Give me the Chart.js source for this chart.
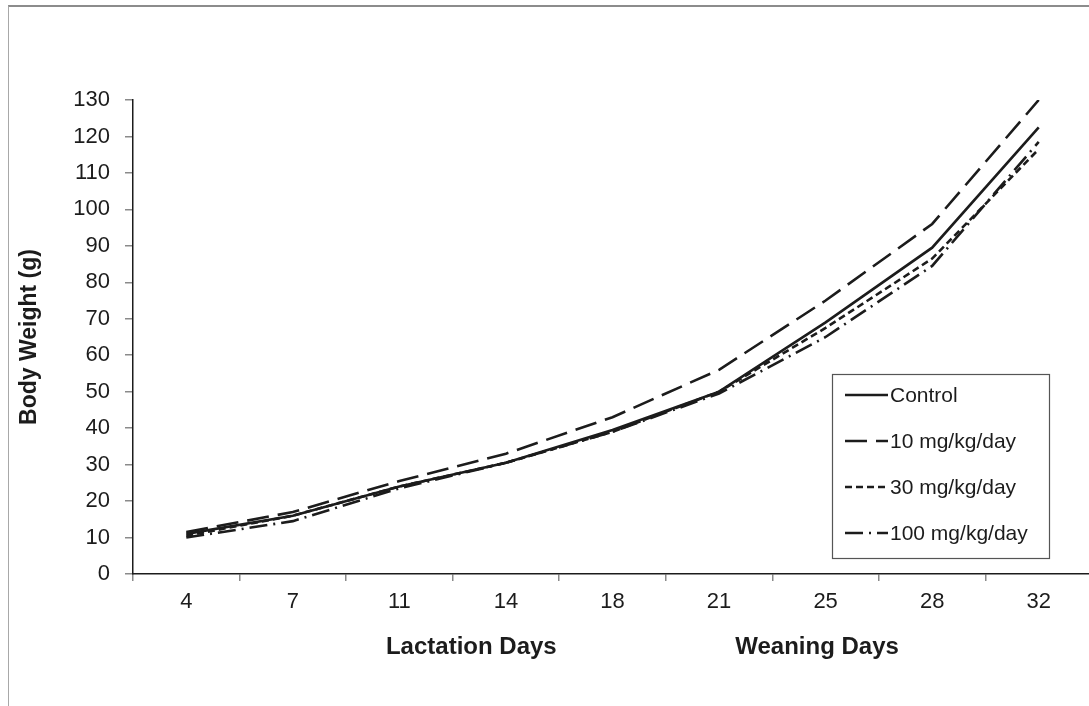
<!DOCTYPE html>
<html><head><meta charset="utf-8">
<script src="https://cdn.jsdelivr.net/npm/chart.js@4.4.1/dist/chart.umd.min.js"></script>
<style>
html,body{margin:0;padding:0;overflow:hidden;background:#fff;width:1089px;height:706px;}
#frame{position:absolute;left:8px;top:5px;width:1100px;height:720px;border-top:2px solid #8c8c8c;border-left:1px solid #a8a8a8;}
#wrap{position:absolute;left:0;top:0;width:1100px;height:706px;}
</style></head><body>
<div id="frame"></div>
<div id="wrap"><canvas id="c"></canvas></div>
<script>
const days = ['4', '7', '11', '14', '18', '21', '25', '28', '32'];
const controlValues = [11, 16, 24, 30.5, 39.5, 50, 69, 89.5, 122.5];
const mg10Values = [11.5, 17, 25.5, 33, 43, 56, 75, 96, 130];
const mg30Values = [10.5, 16, 24, 30.5, 39, 50, 67.5, 86.5, 116.5];
const mg100Values = [10, 14.5, 23.5, 30.5, 39, 49.5, 65, 84.5, 118.5];
const yTickValues = [0, 10, 20, 30, 40, 50, 60, 70, 80, 90, 100, 110, 120, 130];
const seriesNames = ['Control', '10 mg/kg/day', '30 mg/kg/day', '100 mg/kg/day'];
const yTitle = 'Body Weight (g)';
const xGroupTitles = ['Lactation Days', 'Weaning Days'];

const FONT = "'Liberation Sans', Arial, sans-serif";
const INK = '#1c1c1c';
const dashes = [[], [22, 9], [7, 4], [18, 6, 2, 6]];
const seriesData = [controlValues, mg10Values, mg30Values, mg100Values];

const datasets = seriesNames.map((name, i) => ({
  label: name,
  data: seriesData[i],
  borderColor: INK,
  backgroundColor: INK,
  borderWidth: 2.6,
  borderDash: dashes[i],
  pointRadius: 0,
  tension: 0,
  fill: false
}));

const overlay = {
  id: 'overlay',
  afterDraw(chart) {
    const ctx = chart.ctx;
    const xs = chart.scales.x;
    ctx.save();
    ctx.font = "bold 24px " + FONT;
    ctx.fillStyle = INK;
    ctx.textAlign = 'center';
    ctx.textBaseline = 'middle';
    const groupPos = [2.675, 5.92];
    xGroupTitles.forEach((t, i) => ctx.fillText(t, xs.getPixelForValue(groupPos[i]), 647));
    const bx = 832, by = 374, bw = 217, bh = 184;
    ctx.fillStyle = '#fff';
    ctx.fillRect(bx, by, bw, bh);
    ctx.strokeStyle = '#555';
    ctx.lineWidth = 1.2;
    ctx.strokeRect(bx + 0.5, by + 0.5, bw, bh);
    const rows = [395, 441, 487, 533];
    ctx.font = "21px " + FONT;
    ctx.textAlign = 'left';
    chart.data.datasets.forEach((ds, i) => {
      const y = rows[i];
      ctx.beginPath();
      ctx.setLineDash(ds.borderDash || []);
      ctx.lineWidth = 2.4;
      ctx.strokeStyle = INK;
      ctx.moveTo(845, y);
      ctx.lineTo(888, y);
      ctx.stroke();
      ctx.setLineDash([]);
      ctx.fillStyle = INK;
      ctx.fillText(ds.label, 890, y + 1);
    });
    ctx.restore();
  }
};

new Chart(document.getElementById('c'), {
  type: 'line',
  data: { labels: days, datasets },
  options: {
    responsive: true,
    maintainAspectRatio: false,
    animation: false,
    layout: { padding: { top: 100, right: 8, bottom: 0, left: 0 } },
    plugins: { legend: { display: false }, tooltip: { enabled: false } },
    scales: {
      x: {
        offset: true,
        afterFit: s => { s.height = 132; },
        grid: { offset: true, drawOnChartArea: false, drawTicks: true, tickLength: 7, color: '#8a8a8a', lineWidth: 1.5 },
        border: { display: true, color: INK, width: 1.5 },
        ticks: { color: INK, font: { family: FONT, size: 22 }, padding: 8, maxRotation: 0, autoSkip: false }
      },
      y: {
        min: 0, max: 130,
        afterFit: s => { s.width = 133; },
        afterBuildTicks: s => { s.ticks = yTickValues.map(v => ({ value: v })); },
        grid: { drawOnChartArea: false, drawTicks: true, tickLength: 8, color: '#8a8a8a', lineWidth: 1.5 },
        border: { display: true, color: INK, width: 1.5 },
        ticks: { color: INK, font: { family: FONT, size: 22 }, padding: 15 },
        title: { display: true, text: yTitle, color: INK, font: { family: FONT, size: 23, weight: 'bold' }, padding: { top: 16, bottom: 0 } }
      }
    }
  },
  plugins: [overlay]
});
</script>
</body></html>
